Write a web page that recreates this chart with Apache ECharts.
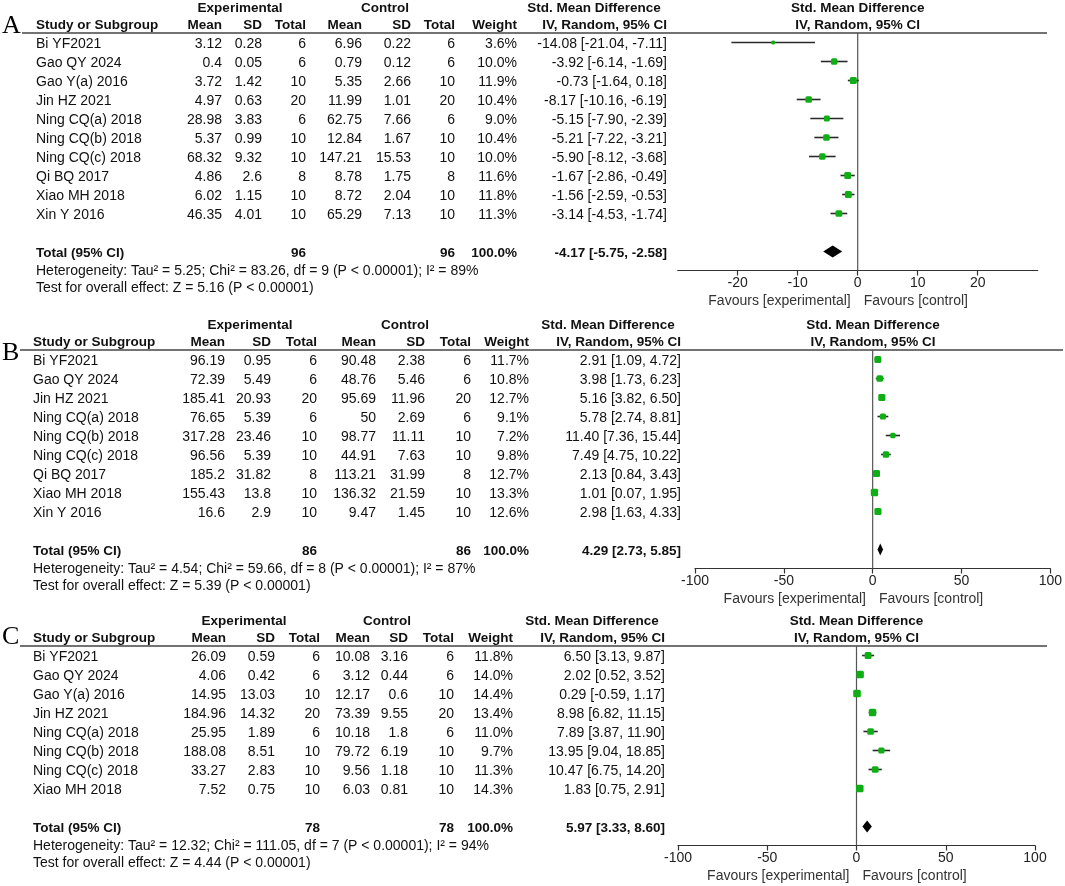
<!DOCTYPE html>
<html><head><meta charset="utf-8">
<script src="https://cdn.jsdelivr.net/npm/echarts@6/dist/echarts.min.js"></script>
<style>html,body{margin:0;padding:0;background:#fff}#c{width:1065px;height:886px}</style>
</head><body><div id="c"></div>
<script>
// ---------- Panel A ----------
const studiesA = ['Bi YF2021','Gao QY 2024','Gao Y(a) 2016','Jin HZ 2021','Ning CQ(a) 2018','Ning CQ(b) 2018','Ning CQ(c) 2018','Qi BQ 2017','Xiao MH 2018','Xin Y 2016'];
const expMeanA = [3.12,0.4,3.72,4.97,28.98,5.37,68.32,4.86,6.02,46.35];
const expSDA   = [0.28,0.05,1.42,0.63,3.83,0.99,9.32,2.6,1.15,4.01];
const expNA    = [6,6,10,20,6,10,10,8,10,10];
const ctlMeanA = [6.96,0.79,5.35,11.99,62.75,12.84,147.21,8.78,8.72,65.29];
const ctlSDA   = [0.22,0.12,2.66,1.01,7.66,1.67,15.53,1.75,2.04,7.13];
const ctlNA    = [6,6,10,20,6,10,10,8,10,10];
const weightA  = [3.6,10.0,11.9,10.4,9.0,10.4,10.0,11.6,11.8,11.3];
const smdA     = [-14.08,-3.92,-0.73,-8.17,-5.15,-5.21,-5.90,-1.67,-1.56,-3.14];
const loA      = [-21.04,-6.14,-1.64,-10.16,-7.90,-7.22,-8.12,-2.86,-2.59,-4.53];
const hiA      = [-7.11,-1.69,0.18,-6.19,-2.39,-3.21,-3.68,-0.49,-0.53,-1.74];
const totalA   = [96,96,100.0,-4.17,-5.75,-2.58]; // expN, ctlN, weight, smd, lo, hi
const hetA  = 'Heterogeneity: Tau² = 5.25; Chi² = 83.26, df = 9 (P < 0.00001); I² = 89%';
const testA = 'Test for overall effect: Z = 5.16 (P < 0.00001)';
const ticksA = [-20,-10,0,10,20];

// ---------- Panel B ----------
const studiesB = ['Bi YF2021','Gao QY 2024','Jin HZ 2021','Ning CQ(a) 2018','Ning CQ(b) 2018','Ning CQ(c) 2018','Qi BQ 2017','Xiao MH 2018','Xin Y 2016'];
const expMeanB = [96.19,72.39,185.41,76.65,317.28,96.56,185.2,155.43,16.6];
const expSDB   = [0.95,5.49,20.93,5.39,23.46,5.39,31.82,13.8,2.9];
const expNB    = [6,6,20,6,10,10,8,10,10];
const ctlMeanB = [90.48,48.76,95.69,50,98.77,44.91,113.21,136.32,9.47];
const ctlSDB   = [2.38,5.46,11.96,2.69,11.11,7.63,31.99,21.59,1.45];
const ctlNB    = [6,6,20,6,10,10,8,10,10];
const weightB  = [11.7,10.8,12.7,9.1,7.2,9.8,12.7,13.3,12.6];
const smdB     = [2.91,3.98,5.16,5.78,11.40,7.49,2.13,1.01,2.98];
const loB      = [1.09,1.73,3.82,2.74,7.36,4.75,0.84,0.07,1.63];
const hiB      = [4.72,6.23,6.50,8.81,15.44,10.22,3.43,1.95,4.33];
const totalB   = [86,86,100.0,4.29,2.73,5.85];
const hetB  = 'Heterogeneity: Tau² = 4.54; Chi² = 59.66, df = 8 (P < 0.00001); I² = 87%';
const testB = 'Test for overall effect: Z = 5.39 (P < 0.00001)';
const ticksB = [-100,-50,0,50,100];

// ---------- Panel C ----------
const studiesC = ['Bi YF2021','Gao QY 2024','Gao Y(a) 2016','Jin HZ 2021','Ning CQ(a) 2018','Ning CQ(b) 2018','Ning CQ(c) 2018','Xiao MH 2018'];
const expMeanC = [26.09,4.06,14.95,184.96,25.95,188.08,33.27,7.52];
const expSDC   = [0.59,0.42,13.03,14.32,1.89,8.51,2.83,0.75];
const expNC    = [6,6,10,20,6,10,10,10];
const ctlMeanC = [10.08,3.12,12.17,73.39,10.18,79.72,9.56,6.03];
const ctlSDC   = [3.16,0.44,0.6,9.55,1.8,6.19,1.18,0.81];
const ctlNC    = [6,6,10,20,6,10,10,10];
const weightC  = [11.8,14.0,14.4,13.4,11.0,9.7,11.3,14.3];
const smdC     = [6.50,2.02,0.29,8.98,7.89,13.95,10.47,1.83];
const loC      = [3.13,0.52,-0.59,6.82,3.87,9.04,6.75,0.75];
const hiC      = [9.87,3.52,1.17,11.15,11.90,18.85,14.20,2.91];
const totalC   = [78,78,100.0,5.97,3.33,8.60];
const hetC  = 'Heterogeneity: Tau² = 12.32; Chi² = 111.05, df = 7 (P < 0.00001); I² = 94%';
const testC = 'Test for overall effect: Z = 4.44 (P < 0.00001)';
const ticksC = [-100,-50,0,50,100];

const headerGroups = ['Experimental','Control','Std. Mean Difference'];
const headerCols = ['Study or Subgroup','Mean','SD','Total','Mean','SD','Total','Weight','IV, Random, 95% CI'];
const plotHeader = ['Std. Mean Difference','IV, Random, 95% CI'];
const favours = ['Favours [experimental]','Favours [control]'];
const totalLabel = 'Total (95% CI)';

const FAM = "'Liberation Sans', Arial, Helvetica, sans-serif";
const SERIF = "'Liberation Serif', 'DejaVu Serif', serif";
const ROW = 19;
const BODY = 14, HEAD = 13.5;

const panels = [
  {letter:'A', studies:studiesA, eM:expMeanA, eS:expSDA, eN:expNA, cM:ctlMeanA, cS:ctlSDA, cN:ctlNA, w:weightA, smd:smdA, lo:loA, hi:hiA, tot:totalA, het:hetA, test:testA, ticks:ticksA, range:30,
   lay:{lineY:33, left:677.7, width:360, letterY:26, cols:[36,222,262,306,362,411,455,517,667], hdr:[240,385,594], line:[22,1047]}},
  {letter:'B', studies:studiesB, eM:expMeanB, eS:expSDB, eN:expNB, cM:ctlMeanB, cS:ctlSDB, cN:ctlNB, w:weightB, smd:smdB, lo:loB, hi:hiB, tot:totalB, het:hetB, test:testB, ticks:ticksB, range:100,
   lay:{lineY:350, left:695, width:356, letterY:353, cols:[33,225,271,317,376,425,471,529,681], hdr:[250,405,608], line:[20,1063]}},
  {letter:'C', studies:studiesC, eM:expMeanC, eS:expSDC, eN:expNC, cM:ctlMeanC, cS:ctlSDC, cN:ctlNC, w:weightC, smd:smdC, lo:loC, hi:hiC, tot:totalC, het:hetC, test:testC, ticks:ticksC, range:100,
   lay:{lineY:646, left:678, width:357, letterY:637, cols:[33,226,275,320,370,408,454,513,665], hdr:[244,387,592], line:[20,1047]}}
];

function fmtCI(s,l,h){ return s.toFixed(2)+' ['+l.toFixed(2)+', '+h.toFixed(2)+']'; }
function txt(x,y,t,align,opt){
  opt = opt || {};
  return {type:'text', x:x, y:y, silent:true, z:10, style:{
    text:t, align:align, textAlign:align, verticalAlign:'middle', textVerticalAlign:'middle',
    font:(opt.bold?'bold ':'')+(opt.size||BODY)+'px '+(opt.fam||FAM), fill:opt.color||'#111'}};
}

const grids=[], xAxes=[], yAxes=[], series=[], graphics=[];

panels.forEach((p,k)=>{
  const L=p.lay, n=p.studies.length;
  const gh=(n+2.5)*ROW;
  grids.push({left:L.left, top:L.lineY, width:L.width, height:gh});
  xAxes.push({gridIndex:k, type:'value', min:-p.range, max:p.range, splitLine:{show:false},
    axisLine:{onZero:false, lineStyle:{color:'#333', width:1.2}},
    axisTick:{show:true, length:5, customValues:p.ticks, lineStyle:{color:'#333', width:1.2}},
    axisLabel:{customValues:p.ticks, fontSize:14, color:'#222', margin:6, fontFamily:FAM}});
  yAxes.push({gridIndex:k, type:'value', min:-0.5, max:n+2, inverse:true, show:false});

  // zero line
  series.push({type:'line', xAxisIndex:k, yAxisIndex:k, silent:true, symbol:'none',
    data:[[0,-0.5],[0,n+2]], lineStyle:{color:'#555', width:1.2}, z:1});

  // CIs + squares
  series.push({type:'custom', xAxisIndex:k, yAxisIndex:k, silent:true, clip:false, z:3,
    data:p.smd.map((s,i)=>[s,i,p.lo[i],p.hi[i],p.w[i]]),
    renderItem:(params,api)=>{
      const c=api.coord([api.value(0),api.value(1)]);
      const a=api.coord([api.value(2),api.value(1)]);
      const b=api.coord([api.value(3),api.value(1)]);
      const s=2.0*Math.sqrt(api.value(4));
      return {type:'group', children:[
        {type:'line', shape:{x1:a[0],y1:a[1],x2:b[0],y2:b[1]}, style:{stroke:'#2a2a2a', lineWidth:1.6}},
        {type:'rect', shape:{x:c[0]-s/2,y:c[1]-s/2,width:s,height:s, r:1.5}, style:{fill:'#0fae14'}}
      ]};
    }});

  // diamond
  series.push({type:'custom', xAxisIndex:k, yAxisIndex:k, silent:true, clip:false, z:3,
    data:[[p.tot[3], n+1, p.tot[4], p.tot[5]]],
    renderItem:(params,api)=>{
      const c=api.coord([api.value(0),api.value(1)]);
      const a=api.coord([api.value(2),api.value(1)]);
      const b=api.coord([api.value(3),api.value(1)]);
      const h=6;
      return {type:'polygon', shape:{points:[[a[0],c[1]],[c[0],c[1]-h],[b[0],c[1]],[c[0],c[1]+h]]}, style:{fill:'#000'}};
    }});

  // table text rows
  const rows = p.studies.map((_,i)=>[0,i]).concat([[0,n+1]]);
  series.push({type:'custom', xAxisIndex:k, yAxisIndex:k, silent:true, clip:false, z:5,
    data:rows,
    renderItem:(params,api)=>{
      const i=params.dataIndex;
      const y=api.coord([0,api.value(1)])[1]+2;
      let cells, bold=false;
      if(i<n){
        cells=[p.studies[i], String(p.eM[i]), String(p.eS[i]), String(p.eN[i]), String(p.cM[i]), String(p.cS[i]), String(p.cN[i]), p.w[i].toFixed(1)+'%', fmtCI(p.smd[i],p.lo[i],p.hi[i])];
      } else {
        bold=true;
        cells=[totalLabel,'','',String(p.tot[0]),'','',String(p.tot[1]),p.tot[2].toFixed(1)+'%',fmtCI(p.tot[3],p.tot[4],p.tot[5])];
      }
      return {type:'group', children:cells.map((t,j)=>txt(L.cols[j], y, t, j===0?'left':'right', bold?{bold:true,size:HEAD}:{}))};
    }});

  // graphics: letter, headers, line, het/test, favours
  const cx = L.left + L.width/2;
  graphics.push(txt(2, L.letterY, p.letter, 'left', {size:26, fam:SERIF, color:'#000'}));
  graphics.push(txt(L.hdr[0], L.lineY-25, headerGroups[0], 'center', {bold:true, size:HEAD}));
  graphics.push(txt(L.hdr[1], L.lineY-25, headerGroups[1], 'center', {bold:true, size:HEAD}));
  graphics.push(txt(L.hdr[2], L.lineY-25, headerGroups[2], 'center', {bold:true, size:HEAD}));
  graphics.push(txt(cx, L.lineY-25, plotHeader[0], 'center', {bold:true, size:HEAD}));
  headerCols.forEach((h,j)=>graphics.push(txt(L.cols[j], L.lineY-8, h, j===0?'left':'right', {bold:true, size:HEAD})));
  graphics.push(txt(cx, L.lineY-8, plotHeader[1], 'center', {bold:true, size:HEAD}));
  graphics.push({type:'line', silent:true, shape:{x1:L.line[0], y1:L.lineY, x2:L.line[1], y2:L.lineY}, style:{stroke:'#444', lineWidth:1.5}});
  const totY = L.lineY + (n+1.5)*ROW + 2;
  graphics.push(txt(L.cols[0], totY+18, p.het, 'left', {}));
  graphics.push(txt(L.cols[0], totY+35, p.test, 'left', {}));
  const axisY = L.lineY + gh;
  graphics.push(txt(cx-7, axisY+31, favours[0], 'right', {color:'#333'}));
  graphics.push(txt(cx+6, axisY+31, favours[1], 'left', {color:'#333'}));
});

const chart = echarts.init(document.getElementById('c'), null, {renderer:'canvas'});
chart.setOption({
  animation:false,
  backgroundColor:'#fff',
  grid:grids, xAxis:xAxes, yAxis:yAxes, series:series, graphic:{elements:graphics}
});
</script></body></html>
